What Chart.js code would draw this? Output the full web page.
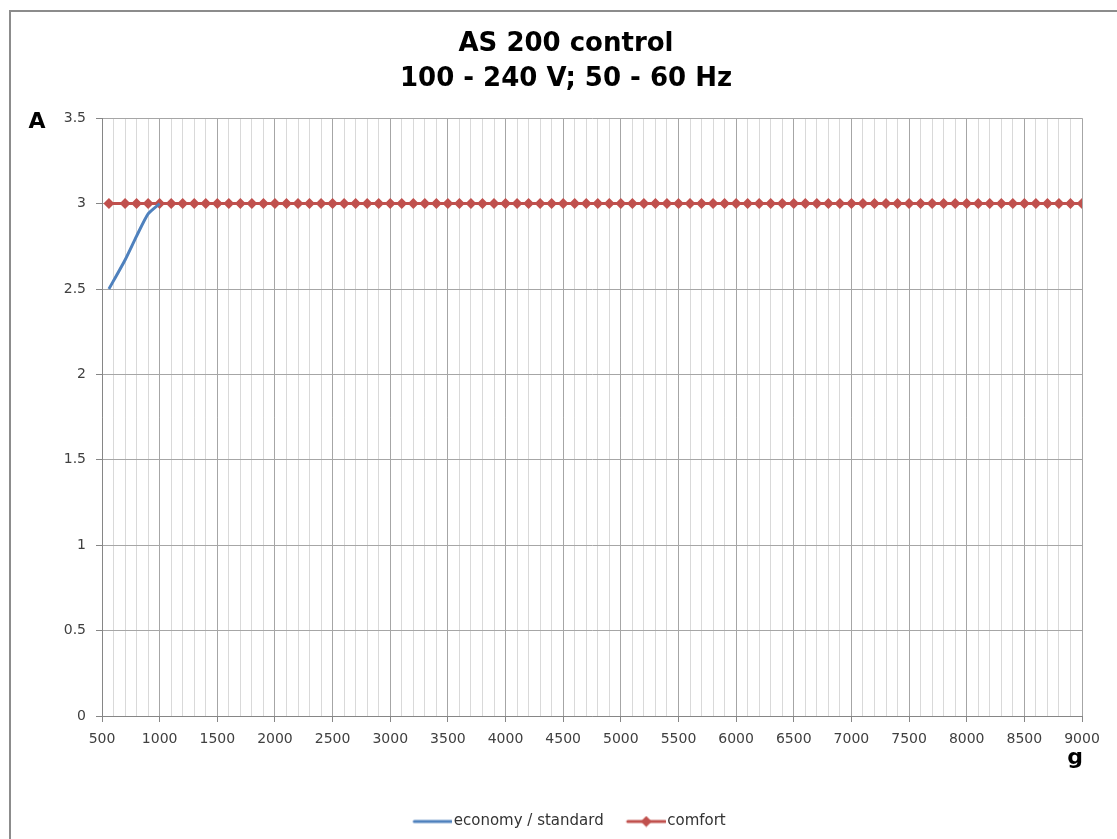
<!DOCTYPE html>
<html>
<head>
<meta charset="utf-8">
<script src="https://cdn.jsdelivr.net/npm/chart.js@4.4.1/dist/chart.umd.min.js"></script>
<style>
  html, body { margin: 0; padding: 0; background: #fff; overflow: hidden; }
  #wrap { position: relative; width: 1117px; height: 839px; }
  #frame { position: absolute; left: 9px; top: 10px; width: 1200px; height: 900px; border: 2px solid #8c8c8c; box-sizing: border-box; }
  canvas { position: absolute; left: 0; top: 0; }
</style>
</head>
<body>
<div id="wrap">
  <div id="frame"></div>
  <canvas id="c" width="1117" height="839"></canvas>
</div>
<script>
const titleLines = ['AS 200 control', '100 - 240 V; 50 - 60 Hz'];
const yAxisLabel = 'A';
const xAxisLabel = 'g';
const seriesNames = ['economy / standard', 'comfort'];

const economyX = [560, 700, 800, 900, 1000];
const economyY = [2.5, 2.67, 2.81, 2.94, 3.0];

const comfortX = [560, 700, 800, 900, 1000, 1100, 1200, 1300, 1400, 1500, 1600, 1700, 1800, 1900,
  2000, 2100, 2200, 2300, 2400, 2500, 2600, 2700, 2800, 2900, 3000, 3100, 3200, 3300, 3400, 3500,
  3600, 3700, 3800, 3900, 4000, 4100, 4200, 4300, 4400, 4500, 4600, 4700, 4800, 4900, 5000, 5100,
  5200, 5300, 5400, 5500, 5600, 5700, 5800, 5900, 6000, 6100, 6200, 6300, 6400, 6500, 6600, 6700,
  6800, 6900, 7000, 7100, 7200, 7300, 7400, 7500, 7600, 7700, 7800, 7900, 8000, 8100, 8200, 8300,
  8400, 8500, 8600, 8700, 8800, 8900, 9000];
const comfortY = [3, 3, 3, 3, 3, 3, 3, 3, 3, 3, 3, 3, 3, 3, 3, 3, 3, 3, 3, 3, 3, 3, 3, 3, 3, 3, 3,
  3, 3, 3, 3, 3, 3, 3, 3, 3, 3, 3, 3, 3, 3, 3, 3, 3, 3, 3, 3, 3, 3, 3, 3, 3, 3, 3, 3, 3, 3, 3, 3,
  3, 3, 3, 3, 3, 3, 3, 3, 3, 3, 3, 3, 3, 3, 3, 3, 3, 3, 3, 3, 3, 3, 3, 3, 3, 3];

const blue = '#4f81bd';
const red = '#c0504d';
const FONT = '"DejaVu Sans", "Liberation Sans", Arial, sans-serif';

function legendIcon(color, withMarker) {
  const c = document.createElement('canvas');
  c.width = 52; c.height = 12;
  const g = c.getContext('2d');
  g.strokeStyle = color; g.lineWidth = 3; g.lineCap = 'round';
  g.beginPath(); g.moveTo(14, 6); g.lineTo(51, 6); g.stroke();
  if (withMarker) {
    g.fillStyle = color;
    g.beginPath(); g.moveTo(32.5, 0.5); g.lineTo(38, 6); g.lineTo(32.5, 11.5); g.lineTo(27, 6); g.closePath(); g.fill();
  }
  return c;
}
const icons = [legendIcon(blue, false), legendIcon(red, true)];

const axisLabels = {
  id: 'axisLabels',
  afterDraw(chart) {
    const { ctx, chartArea } = chart;
    ctx.save();
    ctx.fillStyle = '#000';
    ctx.font = 'bold 22px ' + FONT;
    ctx.textAlign = 'center';
    ctx.textBaseline = 'middle';
    ctx.fillText(yAxisLabel, 37, chartArea.top + 4);
    ctx.fillText(xAxisLabel, chartArea.right - 7, chartArea.bottom + 42);
    ctx.restore();
  }
};

const pts = (xs, ys) => xs.map((x, i) => ({ x: x, y: ys[i] }));

new Chart(document.getElementById('c'), {
  type: 'line',
  data: {
    datasets: [
      {
        label: seriesNames[0],
        data: pts(economyX, economyY),
        borderColor: blue, backgroundColor: blue,
        borderWidth: 3, pointRadius: 0, tension: 0.2,
        pointStyle: icons[0]
      },
      {
        label: seriesNames[1],
        data: pts(comfortX, comfortY),
        borderColor: red, backgroundColor: red,
        borderWidth: 3, pointRadius: 5.5, pointStyle: 'rectRot', pointBorderWidth: 0,
        pointBackgroundColor: red
      }
    ]
  },
  options: {
    responsive: false,
    animation: false,
    devicePixelRatio: 1,
    layout: { padding: { left: 50, right: 35, top: 0, bottom: 0 } },
    plugins: {
      title: {
        display: true,
        text: titleLines,
        color: '#000',
        font: { family: FONT, size: 26, weight: 'bold', lineHeight: 1.35 },
        padding: { top: 27, bottom: 21 }
      },
      legend: {
        position: 'bottom',
        labels: {
          usePointStyle: true,
          pointStyleWidth: 40,
          boxHeight: 12,
          padding: 16,
          color: '#333333',
          font: { family: FONT, size: 15 },
          generateLabels(chart) {
            return chart.data.datasets.map((d, i) => ({
              text: d.label, pointStyle: icons[i], datasetIndex: i,
              fillStyle: d.borderColor, strokeStyle: d.borderColor, lineWidth: 0, hidden: false,
              fontColor: '#333333'
            }));
          }
        }
      },
      tooltip: { enabled: false }
    },
    scales: {
      x: {
        type: 'linear',
        min: 500, max: 9000,
        afterBuildTicks(scale) {
          const t = [];
          for (let v = 500; v <= 9000; v += 100) t.push({ value: v });
          scale.ticks = t;
        },
        ticks: {
          autoSkip: false, maxRotation: 0, minRotation: 0,
          color: '#404040', padding: 9,
          font: { family: FONT, size: 14 },
          callback: (v) => (v % 500 === 0 ? String(v) : '')
        },
        grid: {
          color: (ctx) => (ctx.tick && ctx.tick.value % 500 === 0 ? '#a6a6a6' : '#d9d9d9'),
          tickColor: (ctx) => (ctx.tick && ctx.tick.value % 500 === 0 ? '#868686' : 'rgba(0,0,0,0)'),
          tickLength: 6,
          lineWidth: 1
        },
        border: { color: '#868686', width: 1 },
        afterFit(scale) { scale.height = 82; }
      },
      y: {
        min: 0, max: 3.5,
        ticks: {
          stepSize: 0.5,
          color: '#404040', padding: 10,
          font: { family: FONT, size: 14 },
          callback: (v) => String(v)
        },
        grid: { color: '#a6a6a6', tickColor: '#868686', tickLength: 6, lineWidth: 1 },
        border: { color: '#868686', width: 1 },
        afterFit(scale) { scale.width = 52; }
      }
    }
  },
  plugins: [axisLabels]
});
</script>
</body>
</html>
